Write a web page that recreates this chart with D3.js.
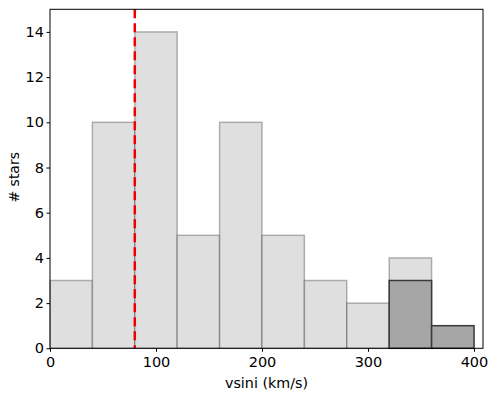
<!DOCTYPE html>
<html><head><meta charset="utf-8">
<script src="https://cdn.jsdelivr.net/npm/d3@7"></script>
<style>body{margin:0;background:#fff}svg{display:block}</style>
</head><body>
<svg id="c" width="500" height="396"></svg>
<script>
const binEdges = [0,40,80,120,160,200,240,280,320,360,400];
const allCounts = [3,10,14,5,10,5,3,2,4,1];
const subCounts = [0,0,0,0,0,0,0,0,3,1];
const xTicks = [0,100,200,300,400];
const yTicks = [0,2,4,6,8,10,12,14];
const markerX = 80;
const xLabel = "vsini (km/s)";
const yLabel = "# stars";

const svg = d3.select("#c");
const L=50, T=9.3, R=483, B=348.3;
const x = d3.scaleLinear().domain([0,408.5]).range([L,R]);
const y = d3.scaleLinear().domain([0,15]).range([B,T]);
const font = "DejaVu Sans, sans-serif";

const bins = allCounts.map((c,i)=>({x0:binEdges[i],x1:binEdges[i+1],c}));
svg.append("g").selectAll("rect").data(bins.filter(d=>d.c>0)).join("rect")
  .attr("x",d=>x(d.x0)).attr("width",d=>x(d.x1)-x(d.x0))
  .attr("y",d=>y(d.c)).attr("height",d=>y(0)-y(d.c))
  .attr("fill","#dfdfdf").attr("stroke","#000").attr("stroke-opacity",0.28).attr("stroke-width",1.5);

const sbins = subCounts.map((c,i)=>({x0:binEdges[i],x1:binEdges[i+1],c}));
svg.append("g").selectAll("rect").data(sbins.filter(d=>d.c>0)).join("rect")
  .attr("x",d=>x(d.x0)).attr("width",d=>x(d.x1)-x(d.x0))
  .attr("y",d=>y(d.c)).attr("height",d=>y(0)-y(d.c))
  .attr("fill","#a6a6a6").attr("stroke","#3a3a3a").attr("stroke-width",1.5);

svg.append("line").attr("x1",x(markerX)).attr("x2",x(markerX)).attr("y1",T).attr("y2",B)
  .attr("stroke","#ee0000").attr("stroke-width",2.5).attr("stroke-dasharray","9,5");

svg.append("rect").attr("x",L).attr("y",T).attr("width",R-L).attr("height",B-T)
  .attr("fill","none").attr("stroke","#000").attr("stroke-width",1);

const xa = svg.append("g").attr("transform",`translate(0,${B})`)
  .call(d3.axisBottom(x).tickValues(xTicks).tickSize(3.5).tickPadding(5).tickFormat(d3.format("d")));
const ya = svg.append("g").attr("transform",`translate(${L},0)`)
  .call(d3.axisLeft(y).tickValues(yTicks).tickSize(3.5).tickPadding(2.5).tickFormat(d3.format("d")));
[xa,ya].forEach(a=>{
  a.select(".domain").remove();
  a.selectAll("line").attr("stroke","#000");
  a.selectAll("text").attr("font-family",font).attr("font-size",14.5).attr("fill","#000");
});

svg.append("text").attr("x",(L+R)/2).attr("y",388).attr("text-anchor","middle")
  .attr("font-family",font).attr("font-size",14.3).text(xLabel);
svg.append("text").attr("transform",`translate(18.5,${(T+B)/2-1.5}) rotate(-90)`).attr("text-anchor","middle")
  .attr("font-family",font).attr("font-size",14).text(yLabel);
</script>
</body></html>
